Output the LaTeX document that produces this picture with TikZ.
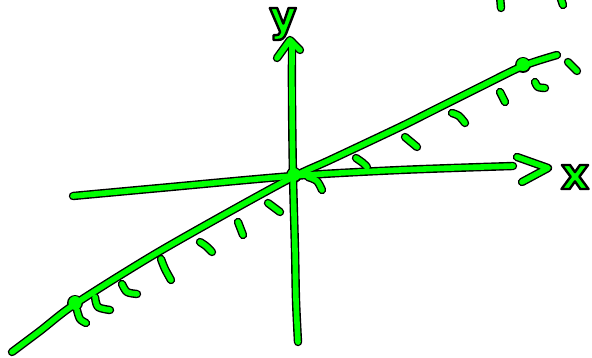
\documentclass[tikz,border=0pt]{standalone}
\usepackage{fontspec}
\newfontfamily\handfont{DejaVu Sans}
\definecolor{pen}{RGB}{0,255,0}
\newcommand\outlinedtext[1]{{\color{pen}\special{pdf:literal direct 2 Tr 2.4 w 1 j 0 0 0 RG}#1\special{pdf:literal direct 0 Tr}}}
\newcommand\sketchstrokes{%
  % y axis
  \draw[ink] plot[smooth] coordinates {(298,342) (296,300) (295,250) (293,176) (292,100) (292,42)};
  \draw[ink] (277,58) -- (290,40) -- (300,50);
  % x axis
  \draw[ink] plot[smooth] coordinates {(73,196) (160,188) (293,176) (400,170) (513,166)};
  \draw[ink] (517,157) -- (548,168) -- (522,182);
  % slanted line
  \draw[ink] plot[smooth] coordinates {(12,352) (40,331) (75,304) (150,257) (220,217) (293,177) (330,160) (400,127) (430,112) (480,87) (523,66) (557,55)};
  % hatches
  \draw[ink] plot[smooth] coordinates {(77,310) (80,319) (86,323)};
  \draw[ink] plot[smooth] coordinates {(95,297) (98,307) (110,310)};
  \draw[ink] plot[smooth] coordinates {(122,284) (127,292) (137,294)};
  \draw[ink] plot[smooth] coordinates {(161,259) (165,269) (171,280)};
  \draw[ink] plot[smooth] coordinates {(200,242) (206,246) (212,252)};
  \draw[ink] (238,222) -- (243,235);
  \draw[ink] (268,203) -- (280,212);
  \draw[ink] plot[smooth] coordinates {(308,177) (317,181) (322,190)};
  \draw[ink] plot[smooth] coordinates {(356,158) (363,163) (367,167)};
  \draw[ink] (405,137) -- (417,147);
  \draw[ink] plot[smooth] coordinates {(452,113) (459,116) (465,123)};
  \draw[ink] (500,92) -- (505,102);
  \draw[ink] plot[smooth] coordinates {(535,82) (538,87) (545,88)};
  \draw[ink] (568,62) -- (577,71);
  \draw[ink] (500,-4) -- (501,8);
  \draw[ink] (560,-4) -- (563,5);
  % dots
  \draw[dotink] (75,303) -- ++(0.01,0);
  \draw[dotink] (523,65) -- ++(0.01,0);
  \draw[dotink] (294,175) -- ++(0.01,0);
}
\begin{document}
\begin{tikzpicture}[x=1pt,y=-1pt]
\useasboundingbox (0,0) rectangle (592,358);
\begin{scope}[ink/.style={draw=black,line width=8.4pt,line cap=round,line join=round},
              dotink/.style={draw=black,line width=16pt,line cap=round}]
  \sketchstrokes
\end{scope}
\begin{scope}[ink/.style={draw=pen,line width=5.6pt,line cap=round,line join=round},
              dotink/.style={draw=pen,line width=13pt,line cap=round}]
  \sketchstrokes
\end{scope}
\node[inner sep=0pt] (ylabel) at (283,24) {\handfont\bfseries\fontsize{42}{42}\selectfont\outlinedtext{y}};
\node[inner sep=0pt] (xlabel) at (575,177) {\handfont\bfseries\fontsize{44}{44}\selectfont\outlinedtext{x}};
\end{tikzpicture}
\end{document}
